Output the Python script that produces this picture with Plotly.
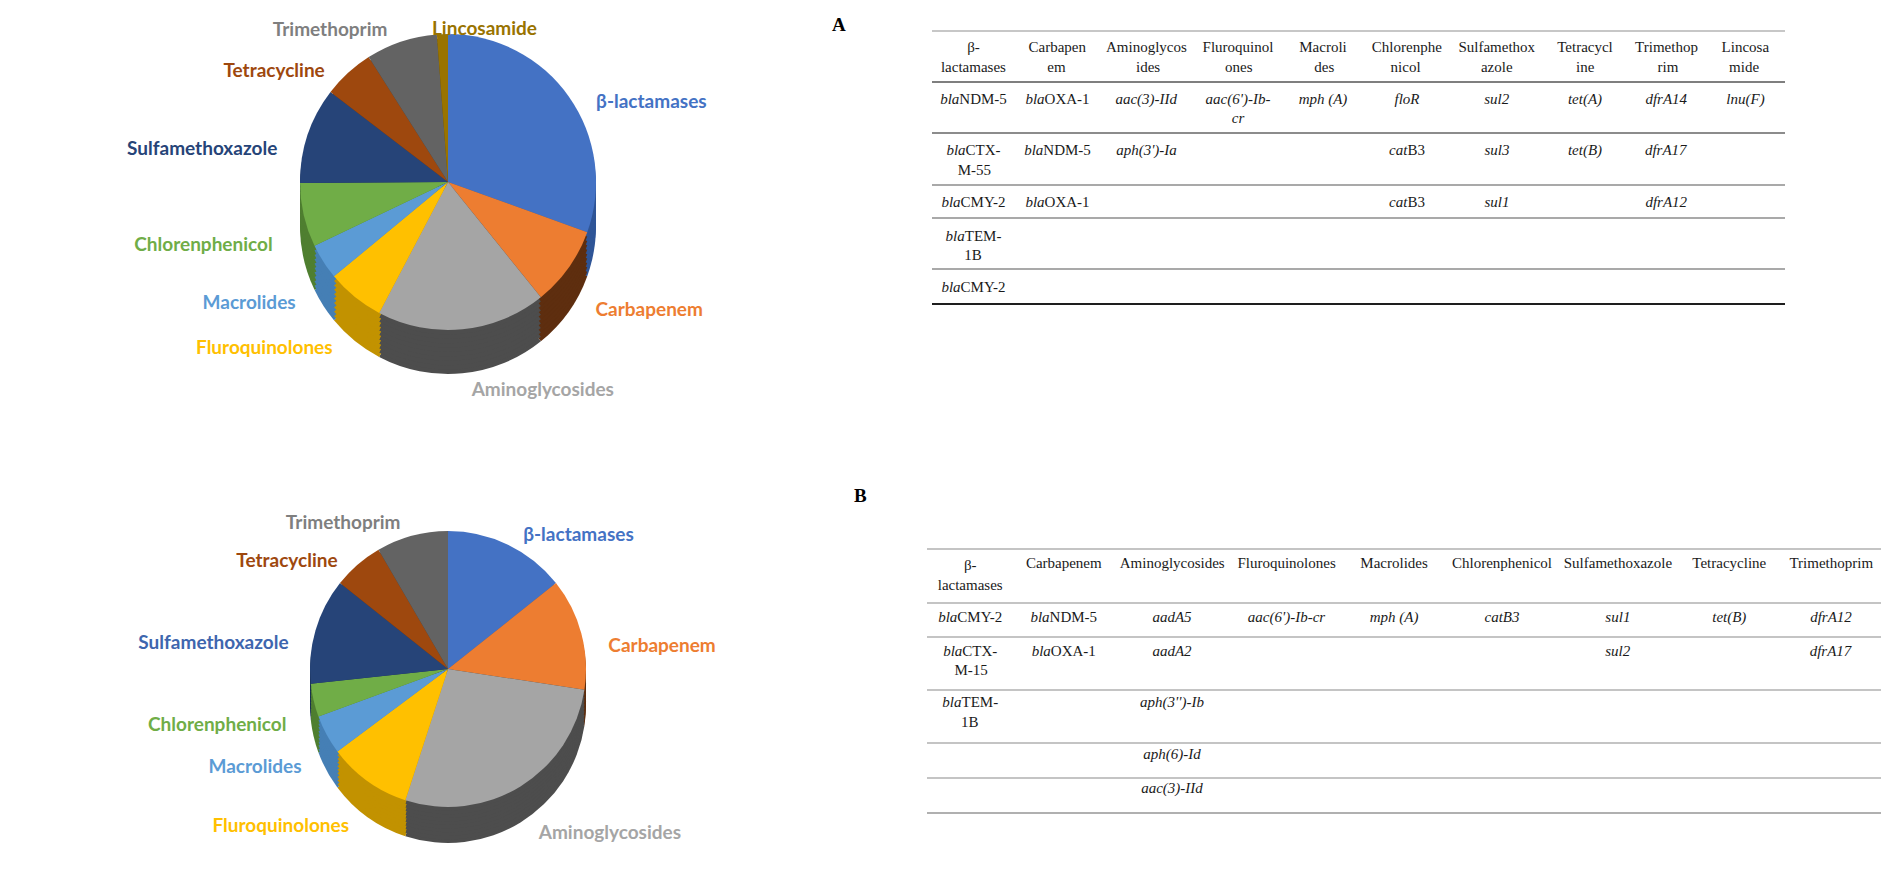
import plotly.graph_objects as go

# page is 1889x877; the browser's default 8px body margin is taken off the figure
PAGE_W, PAGE_H, M = 1889, 877, 8
W, H = PAGE_W - 2 * M, PAGE_H - 2 * M

# ── pie data: share of resistance genes per antibiotic class ──
classes_a = ["β-lactamases", "Carbapenem", "Aminoglycosides", "Fluroquinolones", "Macrolides",
             "Chlorenphenicol", "Sulfamethoxazole", "Tetracycline", "Trimethoprim", "Lincosamide"]
share_a = [30.5, 8.7, 18.5, 6.3, 3.9, 7.0, 10.5, 5.6, 7.8, 1.2]

classes_b = ["β-lactamases", "Carbapenem", "Aminoglycosides", "Fluroquinolones", "Macrolides",
             "Chlorenphenicol", "Sulfamethoxazole", "Tetracycline", "Trimethoprim"]
share_b = [14.3, 13.1, 27.6, 9.8, 4.6, 3.9, 12.4, 5.9, 8.4]

# office-style palette: top face, side face, label text
top_colors = ["#4472C4", "#ED7D31", "#A5A5A5", "#FFC000", "#5B9BD5",
              "#70AD47", "#264478", "#9E480E", "#636363", "#997300"]
side_colors = ["#2F5597", "#5E2E0F", "#4D4D4D", "#C29200", "#457FB5",
               "#4F7F30", "#1A2F52", "#6B300A", "#3F3F3F", "#664D00"]
label_colors_a = ["#4472C4", "#ED7D31", "#A5A5A5", "#FFC000", "#5B9BD5",
                  "#70AD47", "#264478", "#9E480E", "#7F7F7F", "#997300"]
label_colors_b = ["#4472C4", "#ED7D31", "#A5A5A5", "#FFC000", "#5B9BD5",
                  "#70AD47", "#3E66AE", "#9E480E", "#7F7F7F"]


def two(top, bottom, pad=0, pad_top=0):
    # plotly table left-justifies wrapped lines inside a centred block,
    # so the shorter line gets a few no-break spaces in front
    return "\u00a0" * pad_top + top + "<br>" + "\u00a0" * pad + bottom


# ── table data ──
header_a = [two("β-", "lactamases", pad_top=7), two("Carbapen", "em", 5), two("Aminoglycos", "ides", 8),
            two("Fluroquinol", "ones", 6), two("Macroli", "des", 4), two("Chlorenphe", "nicol", 5),
            two("Sulfamethox", "azole", 6), two("Tetracycl", "ine", 5), two("Trimethop", "rim", 6),
            two("Lincosa", "mide", 2)]
rows_a = [
    ["<i>bla</i>NDM-5", "<i>bla</i>OXA-1", "<i>aac(3)-IId</i>", two("<i>aac(6')-Ib-</i>", "<i>cr</i>", 7),
     "<i>mph (A)</i>", "<i>floR</i>", "<i>sul2</i>", "<i>tet(A)</i>", "<i>dfrA14</i>", "<i>lnu(F)</i>"],
    [two("<i>bla</i>CTX-", "M-55", 3), "<i>bla</i>NDM-5", "<i>aph(3')-Ia</i>", "", "",
     "<i>cat</i>B3", "<i>sul3</i>", "<i>tet(B)</i>", "<i>dfrA17</i>", ""],
    ["<i>bla</i>CMY-2", "<i>bla</i>OXA-1", "", "", "", "<i>cat</i>B3", "<i>sul1</i>", "", "<i>dfrA12</i>", ""],
    [two("<i>bla</i>TEM-", "1B", 5), "", "", "", "", "", "", "", "", ""],
    ["<i>bla</i>CMY-2", "", "", "", "", "", "", "", "", ""],
]
colw_a = [83, 85, 93, 90, 80, 88, 92, 84, 79, 79]

header_b = [two("β-", "lactamases", pad_top=7), "Carbapenem", "Aminoglycosides", "Fluroquinolones",
            "Macrolides", "Chlorenphenicol", "Sulfamethoxazole", "Tetracycline", "Trimethoprim"]
rows_b = [
    ["<i>bla</i>CMY-2", "<i>bla</i>NDM-5", "<i>aadA5</i>", "<i>aac(6')-Ib-cr</i>", "<i>mph (A)</i>",
     "<i>catB3</i>", "<i>sul1</i>", "<i>tet(B)</i>", "<i>dfrA12</i>"],
    [two("<i>bla</i>CTX-", "M-15", 3), "<i>bla</i>OXA-1", "<i>aadA2</i>", "", "", "", "<i>sul2</i>", "",
     "<i>dfrA17</i>"],
    [two("<i>bla</i>TEM-", "1B", 5), "", "<i>aph(3'')-Ib</i>", "", "", "", "", "", ""],
    ["", "", "<i>aph(6)-Id</i>", "", "", "", "", "", ""],
    ["", "", "<i>aac(3)-IId</i>", "", "", "", "", "", ""],
]
colw_b = [87, 101, 117, 113, 103, 114, 119, 105, 100]

# horizontal rules of the tables (page pixel rows) and their colours
rules_a = [31, 82, 133, 185, 218, 269, 304]
rule_col_a = ["#b4b4b4", "#555555", "#666666", "#8c8c8c", "#8c8c8c", "#8c8c8c", "#1e1e1e"]
rules_b = [549, 603, 637, 690, 743, 778, 813]
rule_col_b = ["#b0b0b0"] * 7

SERIF = "Liberation Serif"
LABEL_FONT = "Lato"
LABEL_SIZE = 19


def fx(x):
    return min(1.0, max(0.0, (x - M) / W))


def fy(y):
    return min(1.0, max(0.0, 1 - (y - M) / H))


def px_domain(cx, cy, r):
    """Square paper-domain for a pie of radius r centred at page pixel (cx, cy)."""
    return dict(x=[fx(cx - r), fx(cx + r)], y=[fy(cy + r), fy(cy - r)])


def add_3d_pie(fig, labels, values, label_colors, cx, cy, r, depth, layers=10, hide=()):
    n = len(values)
    # stacked darker copies give the pie its thickness
    for k in range(layers, 0, -1):
        fig.add_trace(go.Pie(
            labels=labels, values=values, sort=False, direction="clockwise", rotation=0,
            marker=dict(colors=side_colors[:n], line=dict(width=0)),
            textinfo="none", hoverinfo="skip", showlegend=False,
            domain=px_domain(cx, cy + depth * k / layers, r),
        ))
    # top face
    fig.add_trace(go.Pie(
        labels=labels, values=values, sort=False, direction="clockwise", rotation=0,
        marker=dict(colors=top_colors[:n], line=dict(width=0)),
        textinfo="none", hoverinfo="label+percent", showlegend=False,
        domain=px_domain(cx, cy, r),
    ))
    # transparent ring that carries the outside labels clear of the side
    fig.add_trace(go.Pie(
        labels=labels, values=values, sort=False, direction="clockwise", rotation=0,
        text=["" if lab in hide else lab for lab in labels],
        marker=dict(colors=["rgba(0,0,0,0)"] * n, line=dict(width=0)),
        textinfo="text", textposition="outside", hoverinfo="skip", showlegend=False,
        textfont=dict(family=LABEL_FONT, size=LABEL_SIZE, color=label_colors, weight="bold"),
        domain=px_domain(cx, cy + depth / 2, r + depth / 2 + 4),
    ))


def gene_table(header, rows, widths, x0, x1, y0, y1):
    cols = [list(c) for c in zip(*rows)]
    font = dict(family=SERIF, size=15, color="#1a1a1a")
    return go.Table(
        domain=dict(x=[fx(x0), fx(x1)], y=[fy(y1), fy(y0)]),
        columnwidth=widths,
        header=dict(values=header, align="center", height=34, font=font,
                    fill_color="white", line=dict(color="white", width=1)),
        cells=dict(values=cols, align="center", height=34, font=font,
                   fill_color="white", line=dict(color="white", width=1)),
    )


def rule_shapes(x0, x1, ys, colors):
    shapes = []
    for i, (y, c) in enumerate(zip(ys, colors)):
        shapes.append(dict(type="line", xref="paper", yref="paper",
                           x0=fx(x0), x1=fx(x1), y0=fy(y), y1=fy(y),
                           line=dict(color=c, width=2 if i == len(ys) - 1 else 1.5),
                           layer="above"))
    return shapes


fig = go.Figure()

add_3d_pie(fig, classes_a, share_a, label_colors_a, cx=448, cy=182, r=148, depth=44,
           hide=("Lincosamide",))
add_3d_pie(fig, classes_b, share_b, label_colors_b, cx=448, cy=669, r=138, depth=36)

fig.add_trace(gene_table(header_a, rows_a, colw_a, 932, 1785, 31, 345))
fig.add_trace(gene_table(header_b, rows_b, colw_b, 927, 1881, 549, 860))

fig.update_layout(
    width=W, height=H,
    margin=dict(l=0, r=0, t=0, b=0),
    paper_bgcolor="white", plot_bgcolor="white",
    showlegend=False,
    shapes=rule_shapes(932, 1785, rules_a, rule_col_a) + rule_shapes(927, 1889, rules_b, rule_col_b),
    annotations=[
        # the thin Lincosamide slice sits next to Trimethoprim, so its label is set by hand
        dict(text="Lincosamide", x=fx(430), y=fy(14), xref="paper", yref="paper", showarrow=False,
             xanchor="left", font=dict(family=LABEL_FONT, size=LABEL_SIZE, color="#997300", weight="bold")),
        dict(text="<b>A</b>", x=fx(839), y=fy(12), xref="paper", yref="paper",
             showarrow=False, font=dict(family=SERIF, size=19, color="black")),
        dict(text="<b>B</b>", x=fx(860), y=fy(495), xref="paper", yref="paper",
             showarrow=False, font=dict(family=SERIF, size=19, color="black")),
    ],
)

fig.write_html("out.html")
